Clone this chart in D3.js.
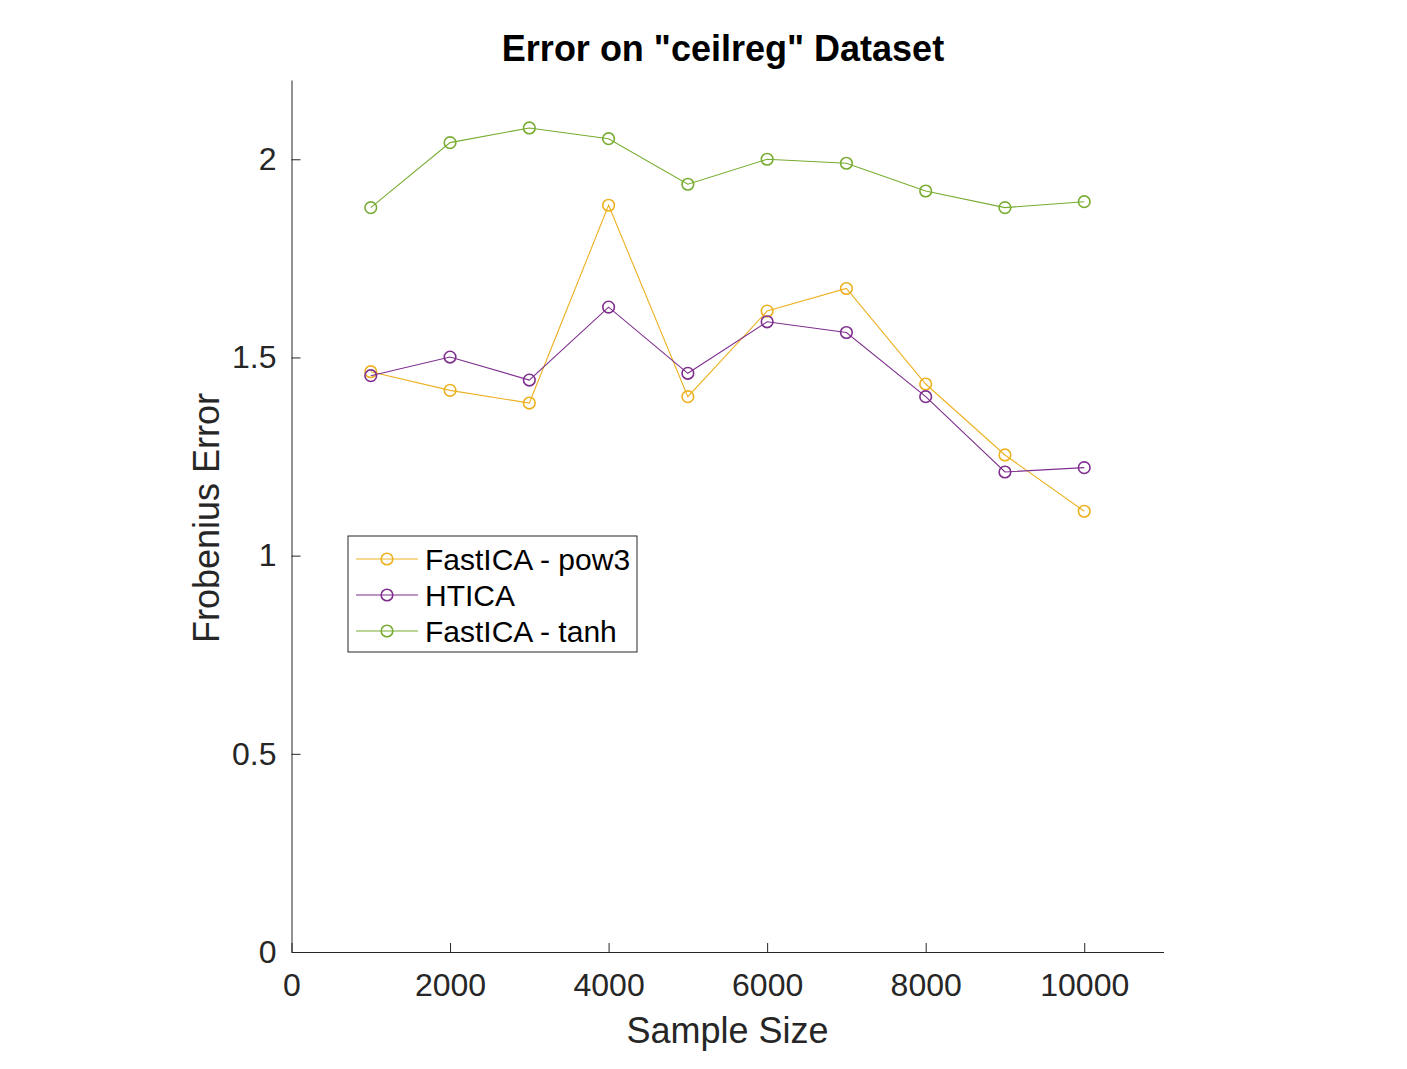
<!DOCTYPE html>
<html>
<head>
<meta charset="utf-8">
<script src="https://cdn.jsdelivr.net/npm/d3@7"></script>
<style>
  body { margin: 0; background: #fff; }
  svg { display: block; font-family: "Liberation Sans", Arial, sans-serif; }
</style>
</head>
<body>
<div id="container"></div>
<script>
// data
const sampleSizes = [1000, 2000, 3000, 4000, 5000, 6000, 7000, 8000, 9000, 10000];
const pow3Errors = [1.464, 1.417, 1.385, 1.884, 1.401, 1.617, 1.674, 1.433, 1.254, 1.112];
const hticaErrors = [1.454, 1.501, 1.443, 1.627, 1.460, 1.590, 1.563, 1.401, 1.211, 1.222];
const tanhErrors = [1.878, 2.042, 2.079, 2.052, 1.937, 2.000, 1.990, 1.920, 1.878, 1.893];
const seriesNames = ['FastICA - pow3', 'HTICA', 'FastICA - tanh'];
const seriesColors = ['#EDB120', '#7E2F8E', '#77AC30'];
const xTicks = [0, 2000, 4000, 6000, 8000, 10000];
const yTicks = [0, 0.5, 1, 1.5, 2];

const W = 1407, H = 1069;
const margin = { top: 80, right: 243.5, bottom: 117, left: 291.5 };
const width = W - margin.left - margin.right;
const height = H - margin.top - margin.bottom;

const svg = d3.select('#container')
  .append('svg')
  .attr('width', W)
  .attr('height', H);

const g = svg.append('g')
  .attr('transform', `translate(${margin.left}, ${margin.top})`);

// scales
const x = d3.scaleLinear().domain([0, 11000]).range([0, width]);
const y = d3.scaleLinear().domain([0, 2.2]).range([height, 0]);

// axes, ticks pointing inward like matlab
const xAxis = d3.axisBottom(x).tickValues(xTicks).tickSize(-9).tickSizeOuter(0)
  .tickPadding(21).tickFormat(d3.format('d'));
const yAxis = d3.axisLeft(y).tickValues(yTicks).tickSize(-9).tickSizeOuter(0)
  .tickPadding(15).tickFormat(d => d);

const gx = g.append('g').attr('transform', `translate(0, ${height})`).call(xAxis);
const gy = g.append('g').call(yAxis);

[gx, gy].forEach(ax => {
  ax.select('.domain').attr('stroke', '#262626').attr('stroke-width', 1);
  ax.selectAll('.tick line').attr('stroke', '#262626');
  ax.selectAll('.tick text')
    .attr('fill', '#262626')
    .style('font-size', '32px')
    .style('font-family', '"Liberation Sans", Arial, sans-serif');
});
gx.selectAll('.tick text').attr('dy', '0.71em');

// series
const series = [pow3Errors, hticaErrors, tanhErrors].map((vals, i) => ({
  name: seriesNames[i],
  color: seriesColors[i],
  values: sampleSizes.map((s, j) => ({ x: s, y: vals[j] }))
}));

const line = d3.line().x(d => x(d.x)).y(d => y(d.y));

series.forEach(s => {
  g.append('path')
    .datum(s.values)
    .attr('fill', 'none')
    .attr('stroke', s.color)
    .attr('stroke-width', 1.1)
    .attr('d', line);
  g.selectAll(null)
    .data(s.values)
    .join('circle')
    .attr('cx', d => x(d.x))
    .attr('cy', d => y(d.y))
    .attr('r', 5.8)
    .attr('fill', 'none')
    .attr('stroke', s.color)
    .attr('stroke-width', 1.6);
});

// title and labels
svg.append('text')
  .attr('x', 723)
  .attr('y', 61)
  .attr('text-anchor', 'middle')
  .attr('font-weight', 'bold')
  .attr('font-size', '36px')
  .attr('fill', '#000')
  .text('Error on "ceilreg" Dataset');

svg.append('text')
  .attr('x', margin.left + width / 2)
  .attr('y', 1043)
  .attr('text-anchor', 'middle')
  .attr('font-size', '36px')
  .attr('fill', '#262626')
  .text('Sample Size');

svg.append('text')
  .attr('transform', `translate(219, ${margin.top + height / 2 + 2}) rotate(-90)`)
  .attr('text-anchor', 'middle')
  .attr('font-size', '36px')
  .attr('fill', '#262626')
  .text('Frobenius Error');

// legend
const legend = svg.append('g').attr('transform', 'translate(348, 536)');
legend.append('rect')
  .attr('width', 289)
  .attr('height', 116)
  .attr('fill', '#fff')
  .attr('stroke', '#262626')
  .attr('stroke-width', 1);

series.forEach((s, i) => {
  const row = legend.append('g').attr('transform', `translate(0, ${23 + i * 36})`);
  row.append('line')
    .attr('x1', 8).attr('x2', 70)
    .attr('stroke', s.color).attr('stroke-width', 1.1);
  row.append('circle')
    .attr('cx', 39).attr('r', 5.8)
    .attr('fill', 'none').attr('stroke', s.color).attr('stroke-width', 1.6);
  row.append('text')
    .attr('x', 77)
    .attr('dy', '0.36em')
    .attr('font-size', '30px')
    .attr('fill', '#000')
    .text(s.name);
});
</script>
</body>
</html>
